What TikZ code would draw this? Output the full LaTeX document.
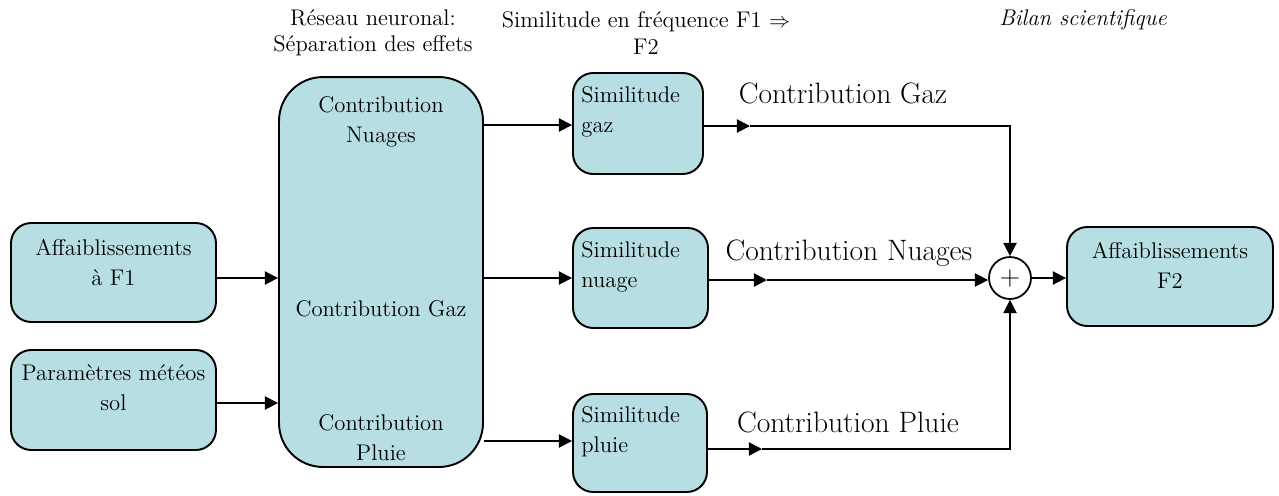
\documentclass[tikz,border=0pt]{standalone}
\usepackage{tikz}
\usetikzlibrary{arrows.meta, positioning, calc}
\definecolor{boxcyan}{RGB}{183,223,227}

\begin{document}
\begin{tikzpicture}[x=0.02cm, y=-0.02cm,
  box/.style={draw=black, fill=boxcyan, rounded corners=#1, line width=1.1pt},
  box/.default=11.5pt,
  txt/.style={font=\fontsize{12.9}{17}\selectfont, align=center, inner sep=0pt},
  ttl/.style={font=\fontsize{12.9}{15}\selectfont, align=center, inner sep=0pt},
  lbl/.style={font=\fontsize{16.8}{18}\selectfont, inner sep=0pt},
  arr/.style={-{Triangle[length=7.5pt, width=7.5pt]}, line width=1pt}
]
\useasboundingbox (0,0) rectangle (1279,495);
% Titles
\node[ttl] (ttlreseau) at (373,33) {R\'eseau neuronal:\\S\'eparation des effets};
\node[ttl] (ttlsimil)  at (646,33) {Similitude en fr\'equence F1 $\Rightarrow$\\F2};
\node[ttl, font=\fontsize{12.9}{15}\selectfont\itshape] (ttlbilan) at (1083,20) {Bilan scientifique};
% Inputs
\node[box, minimum width=4.1cm, minimum height=1.98cm] (af1) at (113.5,272.5) {};
\node[txt] (af1txt) at ([yshift=0.2cm]af1.center) {Affaiblissements\\\`a F1};
\node[box, minimum width=4.1cm, minimum height=2cm] (meteo) at (113.5,400) {};
\node[txt] (meteotxt) at ([yshift=0.24cm]meteo.center) {Param\`etres m\'et\'eos\\sol};
% Neural network
\node[box=25pt, minimum width=4.08cm, minimum height=7.8cm] (reseau) at (381,272) {};
\node[txt] (cnuages) at (381,122) {Contribution\\Nuages};
\node[txt] (cgaz)    at (381,309) {Contribution Gaz};
\node[txt] (cpluie)  at (381,438) {Contribution\\Pluie};
% Similitudes
\node[box, minimum width=2.6cm, minimum height=2.02cm] (simgaz)   at (638,123.5) {};
\node[box, minimum width=2.7cm, minimum height=2cm]    (simnuage) at (640.5,278) {};
\node[box, minimum width=2.68cm, minimum height=1.96cm] (simpluie) at (640,443) {};
\node[txt, align=left, anchor=west] (simgaztxt)   at ([xshift=0.18cm, yshift=0.23cm]simgaz.west)   {Similitude\\gaz};
\node[txt, align=left, anchor=west] (simnuagetxt) at ([xshift=0.18cm, yshift=0.22cm]simnuage.west) {Similitude\\nuage};
\node[txt, align=left, anchor=west] (simpluietxt) at ([xshift=0.18cm, yshift=0.22cm]simpluie.west) {Similitude\\pluie};
% Sum and output
\node[circle, draw=black, line width=1pt, minimum size=0.84cm, inner sep=0pt, font=\fontsize{16}{16}\selectfont] (plus) at (1010,278) {+};
\node[box, minimum width=4.12cm, minimum height=1.98cm] (af2) at (1170,276.5) {};
\node[txt] (af2txt) at ([yshift=0.23cm]af2.center) {Affaiblissements\\F2};
% Contribution labels
\node[lbl] (lblgaz)    at (843,93)  {Contribution Gaz};
\node[lbl] (lblnuages) at (849,253) {Contribution Nuages};
\node[lbl] (lblpluie)  at (848,422) {Contribution Pluie};
\coordinate (gazmid)    at (750,126);
\coordinate (nuagemid)  at (767,280);
\coordinate (pluiemid)  at (762,449);
% Arrows
\draw[arr] (af1.east |- 0,278) -- (reseau.west |- 0,278);
\draw[arr] (meteo.east |- 0,403) -- (reseau.west |- 0,403);
\draw[arr] (reseau.east |- 0,125) -- (simgaz.west |- 0,125);
\draw[arr] (reseau.east |- simnuage.west) -- (simnuage.west);
\draw[arr] (reseau.east |- 0,441) -- (simpluie.west |- 0,441);
\draw[arr, line width=1.2pt] (simgaz.east |- gazmid) -- (gazmid);
\draw[arr, line width=0.85pt] (gazmid) -| (plus.north);
\draw[arr, line width=1.2pt] (simnuage.east |- nuagemid) -- (nuagemid);
\draw[arr, line width=0.85pt] (nuagemid) -- (plus.west |- nuagemid);
\draw[arr, line width=1.2pt] (simpluie.east |- pluiemid) -- (pluiemid);
\draw[arr, line width=0.85pt] (pluiemid) -| (plus.south);
\draw[arr] (plus.east) -- (af2.west |- plus.east);
\end{tikzpicture}
\end{document}
